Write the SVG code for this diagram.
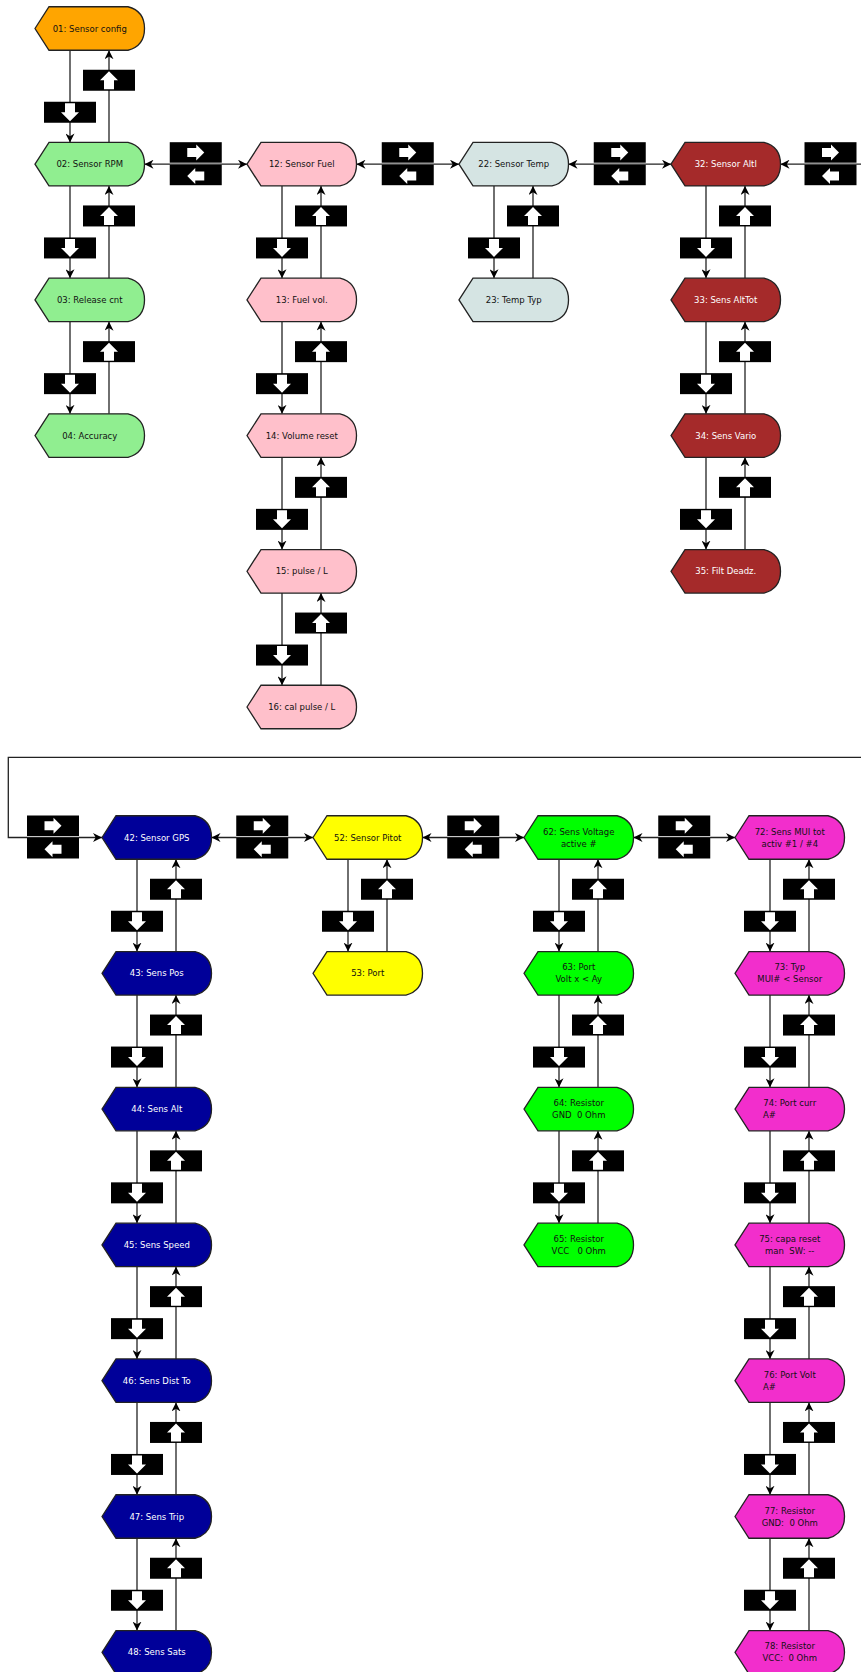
<svg xmlns="http://www.w3.org/2000/svg" xmlns:xlink="http://www.w3.org/1999/xlink" width="861" height="1672" viewBox="0 0 861 1672">
<style>
text{font-family:"DejaVu Sans","Liberation Sans",sans-serif;font-size:8.5px;text-anchor:middle;fill:#111;white-space:pre}
.dk text{fill:#fff}
.or{fill:#FFA500}.lg{fill:#90EE90}.pk{fill:#FFC0CB}.gy{fill:#D5E4E3}.br{fill:#A52A2A}
.bl{fill:#000099}.ye{fill:#FFFF00}.gr{fill:#00FF00}.mg{fill:#F22ECC}
.cn path{fill:none;stroke:#222;stroke-width:1.3}
.e{marker-end:url(#ah)}
.b{marker-start:url(#ah);marker-end:url(#ah)}
</style>
<defs>
<marker id="ah" viewBox="0 0 10 10" refX="10" refY="5" markerWidth="9" markerHeight="9" markerUnits="userSpaceOnUse" orient="auto-start-reverse">
<path d="M0,0 L10,5 L0,10 L3,5 Z" fill="#000" stroke="none"/>
</marker>
<path id="sh" d="M0,0 L14,-21.75 L93,-21.75 Q109.5,-17.5 109.5,0 Q109.5,17.5 93,21.75 L14,21.75 Z" stroke="#222" stroke-width="1.3"/>
<g id="bd"><rect x="-26" y="-10.5" width="52" height="21" fill="#000"/><polygon points="-5,-9 5,-9 5,0 9,0 0,9 -9,0 -5,0" fill="#fff"/></g>
<g id="bu"><rect x="-26" y="-10.5" width="52" height="21" fill="#000"/><polygon points="-5,9 5,9 5,0 9,0 0,-9 -9,0 -5,0" fill="#fff"/></g>
<g id="brt"><rect x="-26" y="-10.25" width="52" height="20.5" fill="#000"/><polygon points="-8.5,-4 0.5,-4 0.5,-7.5 8.5,0.5 0.5,8.5 0.5,5 -8.5,5" fill="#fff" transform="translate(0,-0.5)"/></g>
<g id="blt"><rect x="-26" y="-10.25" width="52" height="20.5" fill="#000"/><polygon points="8.5,-4 -0.5,-4 -0.5,-7.5 -8.5,0.5 -0.5,8.5 -0.5,5 8.5,5" fill="#fff" transform="translate(0,0.5)"/></g>
</defs>
<rect width="861" height="1672" fill="#fff"/>

<g id="connectors" class="cn">
<!-- top row horizontal -->
<path class="b" d="M144.5,164.2 H247"/>
<path class="b" d="M356.5,164.2 H459"/>
<path class="b" d="M568.5,164.2 H671"/>
<path class="e" d="M861,164.2 H780.5"/>
<use href="#brt" x="195.75" y="152.45"/><use href="#blt" x="195.75" y="174.95"/>
<use href="#brt" x="407.75" y="152.45"/><use href="#blt" x="407.75" y="174.95"/>
<use href="#brt" x="619.75" y="152.45"/><use href="#blt" x="619.75" y="174.95"/>
<use href="#brt" x="830.5" y="152.45"/><use href="#blt" x="830.5" y="174.95"/>
<!-- col A -->
<path class="e" d="M70,50.25 V142.45"/><path class="e" d="M109,142.45 V50.25"/>
<use href="#bd" x="70" y="112.25"/><use href="#bu" x="109" y="80.25"/>
<path class="e" d="M70,185.95 V278.15"/><path class="e" d="M109,278.15 V185.95"/>
<use href="#bd" x="70" y="247.95"/><use href="#bu" x="109" y="215.95"/>
<path class="e" d="M70,321.65 V413.85"/><path class="e" d="M109,413.85 V321.65"/>
<use href="#bd" x="70" y="383.65"/><use href="#bu" x="109" y="351.65"/>
<!-- col B -->
<path class="e" d="M282,185.95 V278.15"/><path class="e" d="M321,278.15 V185.95"/>
<use href="#bd" x="282" y="247.95"/><use href="#bu" x="321" y="215.95"/>
<path class="e" d="M282,321.65 V413.85"/><path class="e" d="M321,413.85 V321.65"/>
<use href="#bd" x="282" y="383.65"/><use href="#bu" x="321" y="351.65"/>
<path class="e" d="M282,457.35 V549.55"/><path class="e" d="M321,549.55 V457.35"/>
<use href="#bd" x="282" y="519.35"/><use href="#bu" x="321" y="487.35"/>
<path class="e" d="M282,593.05 V685.25"/><path class="e" d="M321,685.25 V593.05"/>
<use href="#bd" x="282" y="655.05"/><use href="#bu" x="321" y="623.05"/>
<!-- col C -->
<path class="e" d="M494,185.95 V278.15"/><path class="e" d="M533,278.15 V185.95"/>
<use href="#bd" x="494" y="247.95"/><use href="#bu" x="533" y="215.95"/>
<!-- col D -->
<path class="e" d="M706,185.95 V278.15"/><path class="e" d="M745,278.15 V185.95"/>
<use href="#bd" x="706" y="247.95"/><use href="#bu" x="745" y="215.95"/>
<path class="e" d="M706,321.65 V413.85"/><path class="e" d="M745,413.85 V321.65"/>
<use href="#bd" x="706" y="383.65"/><use href="#bu" x="745" y="351.65"/>
<path class="e" d="M706,457.35 V549.55"/><path class="e" d="M745,549.55 V457.35"/>
<use href="#bd" x="706" y="519.35"/><use href="#bu" x="745" y="487.35"/>

<!-- bottom row horizontal -->
<path class="e" d="M861,757.3 H8.3 V837.5 H102"/>
<path class="b" d="M211.5,837.5 H313"/>
<path class="b" d="M422.5,837.5 H524"/>
<path class="b" d="M633.5,837.5 H735"/>
<use href="#brt" x="53" y="825.75"/><use href="#blt" x="53" y="848.25"/>
<use href="#brt" x="262.25" y="825.75"/><use href="#blt" x="262.25" y="848.25"/>
<use href="#brt" x="473.25" y="825.75"/><use href="#blt" x="473.25" y="848.25"/>
<use href="#brt" x="684.25" y="825.75"/><use href="#blt" x="684.25" y="848.25"/>
<!-- col 42 -->
<path class="e" d="M137,859.25 V951.55"/><path class="e" d="M176,951.55 V859.25"/>
<use href="#bd" x="137" y="921.25"/><use href="#bu" x="176" y="889.25"/>
<path class="e" d="M137,995.05 V1087.35"/><path class="e" d="M176,1087.35 V995.05"/>
<use href="#bd" x="137" y="1057.05"/><use href="#bu" x="176" y="1025.05"/>
<path class="e" d="M137,1130.85 V1223.15"/><path class="e" d="M176,1223.15 V1130.85"/>
<use href="#bd" x="137" y="1192.85"/><use href="#bu" x="176" y="1160.85"/>
<path class="e" d="M137,1266.65 V1358.95"/><path class="e" d="M176,1358.95 V1266.65"/>
<use href="#bd" x="137" y="1328.65"/><use href="#bu" x="176" y="1296.65"/>
<path class="e" d="M137,1402.45 V1494.75"/><path class="e" d="M176,1494.75 V1402.45"/>
<use href="#bd" x="137" y="1464.45"/><use href="#bu" x="176" y="1432.45"/>
<path class="e" d="M137,1538.25 V1630.55"/><path class="e" d="M176,1630.55 V1538.25"/>
<use href="#bd" x="137" y="1600.25"/><use href="#bu" x="176" y="1568.25"/>
<!-- col 52 -->
<path class="e" d="M348,859.25 V951.55"/><path class="e" d="M387,951.55 V859.25"/>
<use href="#bd" x="348" y="921.25"/><use href="#bu" x="387" y="889.25"/>
<!-- col 62 -->
<path class="e" d="M559,859.25 V951.55"/><path class="e" d="M598,951.55 V859.25"/>
<use href="#bd" x="559" y="921.25"/><use href="#bu" x="598" y="889.25"/>
<path class="e" d="M559,995.05 V1087.35"/><path class="e" d="M598,1087.35 V995.05"/>
<use href="#bd" x="559" y="1057.05"/><use href="#bu" x="598" y="1025.05"/>
<path class="e" d="M559,1130.85 V1223.15"/><path class="e" d="M598,1223.15 V1130.85"/>
<use href="#bd" x="559" y="1192.85"/><use href="#bu" x="598" y="1160.85"/>
<!-- col 72 -->
<path class="e" d="M770,859.25 V951.55"/><path class="e" d="M809,951.55 V859.25"/>
<use href="#bd" x="770" y="921.25"/><use href="#bu" x="809" y="889.25"/>
<path class="e" d="M770,995.05 V1087.35"/><path class="e" d="M809,1087.35 V995.05"/>
<use href="#bd" x="770" y="1057.05"/><use href="#bu" x="809" y="1025.05"/>
<path class="e" d="M770,1130.85 V1223.15"/><path class="e" d="M809,1223.15 V1130.85"/>
<use href="#bd" x="770" y="1192.85"/><use href="#bu" x="809" y="1160.85"/>
<path class="e" d="M770,1266.65 V1358.95"/><path class="e" d="M809,1358.95 V1266.65"/>
<use href="#bd" x="770" y="1328.65"/><use href="#bu" x="809" y="1296.65"/>
<path class="e" d="M770,1402.45 V1494.75"/><path class="e" d="M809,1494.75 V1402.45"/>
<use href="#bd" x="770" y="1464.45"/><use href="#bu" x="809" y="1432.45"/>
<path class="e" d="M770,1538.25 V1630.55"/><path class="e" d="M809,1630.55 V1538.25"/>
<use href="#bd" x="770" y="1600.25"/><use href="#bu" x="809" y="1568.25"/>
</g>

<!-- top nodes -->
<g id="n01" transform="translate(35,28.5)"><use href="#sh" class="or"/><text x="54.75" y="3">01: Sensor config</text></g>
<g id="n02" transform="translate(35,164.2)"><use href="#sh" class="lg"/><text x="54.75" y="3">02: Sensor RPM</text></g>
<g id="n03" transform="translate(35,299.9)"><use href="#sh" class="lg"/><text x="54.75" y="3">03: Release cnt</text></g>
<g id="n04" transform="translate(35,435.6)"><use href="#sh" class="lg"/><text x="54.75" y="3">04: Accuracy</text></g>
<g id="n12" transform="translate(247,164.2)"><use href="#sh" class="pk"/><text x="54.75" y="3">12: Sensor Fuel</text></g>
<g id="n13" transform="translate(247,299.9)"><use href="#sh" class="pk"/><text x="54.75" y="3">13: Fuel vol.</text></g>
<g id="n14" transform="translate(247,435.6)"><use href="#sh" class="pk"/><text x="54.75" y="3">14: Volume reset</text></g>
<g id="n15" transform="translate(247,571.3)"><use href="#sh" class="pk"/><text x="54.75" y="3">15: pulse / L</text></g>
<g id="n16" transform="translate(247,707)"><use href="#sh" class="pk"/><text x="54.75" y="3">16: cal pulse / L</text></g>
<g id="n22" transform="translate(459,164.2)"><use href="#sh" class="gy"/><text x="54.75" y="3">22: Sensor Temp</text></g>
<g id="n23" transform="translate(459,299.9)"><use href="#sh" class="gy"/><text x="54.75" y="3">23: Temp Typ</text></g>
<g id="n32" class="dk" transform="translate(671,164.2)"><use href="#sh" class="br"/><text x="54.75" y="3">32: Sensor Altl</text></g>
<g id="n33" class="dk" transform="translate(671,299.9)"><use href="#sh" class="br"/><text x="54.75" y="3">33: Sens AltTot</text></g>
<g id="n34" class="dk" transform="translate(671,435.6)"><use href="#sh" class="br"/><text x="54.75" y="3">34: Sens Vario</text></g>
<g id="n35" class="dk" transform="translate(671,571.3)"><use href="#sh" class="br"/><text x="54.75" y="3">35: Filt Deadz.</text></g>

<!-- bottom nodes -->
<g id="n42" class="dk" transform="translate(102,837.5)"><use href="#sh" class="bl"/><text x="54.75" y="3">42: Sensor GPS</text></g>
<g id="n43" class="dk" transform="translate(102,973.3)"><use href="#sh" class="bl"/><text x="54.75" y="3">43: Sens Pos</text></g>
<g id="n44" class="dk" transform="translate(102,1109.1)"><use href="#sh" class="bl"/><text x="54.75" y="3">44: Sens Alt</text></g>
<g id="n45" class="dk" transform="translate(102,1244.9)"><use href="#sh" class="bl"/><text x="54.75" y="3">45: Sens Speed</text></g>
<g id="n46" class="dk" transform="translate(102,1380.7)"><use href="#sh" class="bl"/><text x="54.75" y="3">46: Sens Dist To</text></g>
<g id="n47" class="dk" transform="translate(102,1516.5)"><use href="#sh" class="bl"/><text x="54.75" y="3">47: Sens Trip</text></g>
<g id="n48" class="dk" transform="translate(102,1652.3)"><use href="#sh" class="bl"/><text x="54.75" y="3">48: Sens Sats</text></g>
<g id="n52" transform="translate(313,837.5)"><use href="#sh" class="ye"/><text x="54.75" y="3">52: Sensor Pitot</text></g>
<g id="n53" transform="translate(313,973.3)"><use href="#sh" class="ye"/><text x="54.75" y="3">53: Port</text></g>
<g id="n62" transform="translate(524,837.5)"><use href="#sh" class="gr"/><text x="54.75" y="-3">62: Sens Voltage</text><text x="54.75" y="9">active #</text></g>
<g id="n63" transform="translate(524,973.3)"><use href="#sh" class="gr"/><text x="54.75" y="-3">63: Port</text><text x="54.75" y="9">Volt x &lt; Ay</text></g>
<g id="n64" transform="translate(524,1109.1)"><use href="#sh" class="gr"/><text x="54.75" y="-3">64: Resistor</text><text x="54.75" y="9">GND  0 Ohm</text></g>
<g id="n65" transform="translate(524,1244.9)"><use href="#sh" class="gr"/><text x="54.75" y="-3">65: Resistor</text><text x="54.75" y="9">VCC   0 Ohm</text></g>
<g id="n72" transform="translate(735,837.5)"><use href="#sh" class="mg"/><text x="54.75" y="-3">72: Sens MUI tot</text><text x="54.75" y="9">activ #1 / #4</text></g>
<g id="n73" transform="translate(735,973.3)"><use href="#sh" class="mg"/><text x="54.75" y="-3">73: Typ</text><text x="54.75" y="9">MUI# &lt; Sensor</text></g>
<g id="n74" transform="translate(735,1109.1)"><use href="#sh" class="mg"/><text x="54.75" y="-3">74: Port curr</text><text x="28" y="9" style="text-anchor:start">A#</text></g>
<g id="n75" transform="translate(735,1244.9)"><use href="#sh" class="mg"/><text x="54.75" y="-3">75: capa reset</text><text x="54.75" y="9">man  SW: --</text></g>
<g id="n76" transform="translate(735,1380.7)"><use href="#sh" class="mg"/><text x="54.75" y="-3">76: Port Volt</text><text x="28" y="9" style="text-anchor:start">A#</text></g>
<g id="n77" transform="translate(735,1516.5)"><use href="#sh" class="mg"/><text x="54.75" y="-3">77: Resistor</text><text x="54.75" y="9">GND:  0 Ohm</text></g>
<g id="n78" transform="translate(735,1652.3)"><use href="#sh" class="mg"/><text x="54.75" y="-3">78: Resistor</text><text x="54.75" y="9">VCC:  0 Ohm</text></g>
</svg>
